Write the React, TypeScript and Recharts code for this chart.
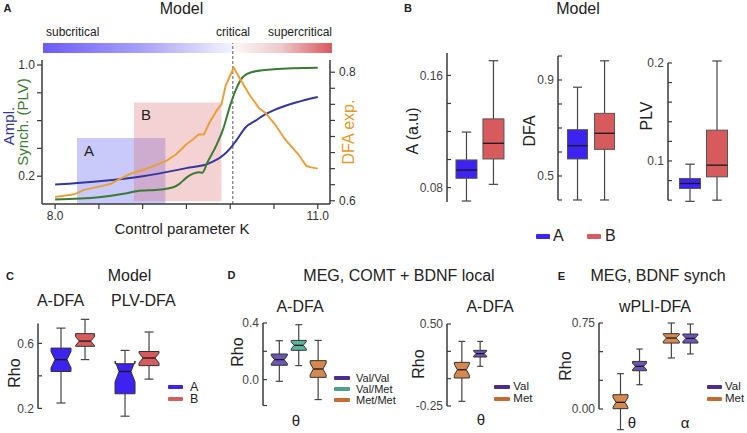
import React from 'react';
import { ComposedChart, Line, Bar, XAxis, YAxis, ReferenceArea, ReferenceLine } from 'recharts';

const FONT = '"Liberation Sans", Arial, Helvetica, sans-serif';
const INK = '#222';
const AXIS = '#3a3a3a';

// ---------- Panel A: model sweep over control parameter K ----------
const kTicks = [8, 8.5, 9, 9.5, 10, 10.5, 11];
const synchTicks = [0.2, 0.4, 0.6, 0.8, 1.0];
const dfaTicks = [0.6, 0.625, 0.65, 0.675, 0.7, 0.725, 0.75, 0.775, 0.8];
const criticalK = 10.03;

const ampK = [8.0, 8.5, 9.0, 9.5, 9.75, 9.92, 10.0, 10.07, 10.18, 10.29, 10.4, 10.5, 10.75, 11.0];
const ampVals = [0.14, 0.164, 0.2, 0.258, 0.29, 0.35, 0.4, 0.458, 0.554, 0.6, 0.644, 0.675, 0.73, 0.77];

const plvK = [8.0, 8.5, 8.78, 8.93, 9.2, 9.35, 9.42, 9.5, 9.57, 9.64, 9.68, 9.74, 9.84, 9.92, 10.0, 10.07, 10.14, 10.25, 10.5, 11.0];
const plvVals = [0.032, 0.048, 0.073, 0.092, 0.104, 0.12, 0.145, 0.19, 0.217, 0.229, 0.224, 0.3, 0.42, 0.54, 0.71, 0.83, 0.91, 0.95, 0.97, 0.98];

const dfaK = [8.0, 8.22, 8.33, 8.5, 8.63, 8.74, 8.86, 9.0, 9.12, 9.27, 9.38, 9.5, 9.57, 9.64, 9.7, 9.76, 9.84, 9.9, 9.95, 10.04, 10.12, 10.22, 10.33, 10.4, 10.5, 10.63, 10.78, 10.87, 10.93, 11.0];
const dfaVals = [0.606, 0.61, 0.617, 0.622, 0.626, 0.634, 0.642, 0.648, 0.654, 0.662, 0.672, 0.688, 0.695, 0.703, 0.703, 0.721, 0.739, 0.75, 0.78, 0.807, 0.788, 0.765, 0.744, 0.737, 0.721, 0.695, 0.672, 0.654, 0.652, 0.65];

const regionA = { k: [8.25, 9.26], v: [0, 0.475] };
const regionB = { k: [8.9, 9.9], v: [0.02, 0.73] };

// ---------- Box stats: [min, q1, median, q3, max] ----------
// B: model, regions A / B
const ampBox = [[0.0704, 0.0866, 0.0925, 0.0997, 0.1196], [0.0823, 0.1004, 0.1116, 0.129, 0.1705]];
const dfaBox = [[0.4, 0.571, 0.626, 0.693, 0.87], [0.4, 0.611, 0.678, 0.761, 0.98]];
const plvBox = [[0.0588, 0.0719, 0.077, 0.0821, 0.0967], [0.06, 0.0838, 0.0957, 0.1314, 0.202]];
// C: model correlations (A-DFA, PLV-DFA)
const rhoA = [[0.233, 0.427, 0.5, 0.571, 0.694], [0.152, 0.29, 0.427, 0.475, 0.557]];
const rhoB = [[0.5, 0.582, 0.614, 0.66, 0.748], [0.38, 0.463, 0.51, 0.55, 0.67]];
// D: MEG COMT (Val/Val, Val/Met, Met/Met) and BDNF (Met, Val), theta A-DFA
const comtTheta = [[-0.012, 0.101, 0.141, 0.181, 0.275], [0.099, 0.207, 0.242, 0.277, 0.388], [-0.141, 0.016, 0.075, 0.134, 0.277]];
const bdnfLocalMet = [-0.207, 0.006, 0.082, 0.149, 0.341];
const bdnfLocalVal = [0.113, 0.198, 0.229, 0.259, 0.341];
// E: MEG BDNF synch, wPLI-DFA (theta, alpha)
const synchMet = [[-0.18, 0.003, 0.058, 0.125, 0.308], [0.445, 0.575, 0.619, 0.657, 0.75]];
const synchVal = [[0.212, 0.334, 0.372, 0.415, 0.523], [0.48, 0.575, 0.616, 0.654, 0.741]];

const BLUE_A = '#3c23f0';
const RED_B = '#d75a5d';
const VAL = '#6e55b4';
const VALMET = '#5db49c';
const MET = '#d7884f';
const VAL_KEY = '#4a2e8e';
const VALMET_KEY = '#4fa08a';
const MET_KEY = '#c66a34';

type Box = { x: number; stats: number[]; fill: string; w: number };

function Txt({ x, y, children, size = 16, color = INK, bold = false, rotate = false, anchor = 'middle' }: any) {
  const tx = anchor === 'start' ? '0' : anchor === 'end' ? '-100%' : '-50%';
  return (
    <div
      style={{
        position: 'absolute',
        left: x,
        top: y,
        transform: `translate(${tx},-50%)${rotate ? ' rotate(-90deg)' : ''}`,
        fontSize: size,
        color,
        fontWeight: bold ? 700 : 400,
        whiteSpace: 'nowrap',
        lineHeight: 1,
      }}
    >
      {children}
    </div>
  );
}

function Key({ x, y, items, size = 12, w = 15, gap = 6, step = 11, h = 4 }: any) {
  return (
    <>
      {items.map((it: any, i: number) => (
        <React.Fragment key={it.label}>
          <div style={{ position: 'absolute', left: x, top: y + i * step - h / 2, width: w, height: h, borderRadius: 1, background: it.color }} />
          <Txt x={x + w + gap} y={y + i * step} size={size} anchor="start">{it.label}</Txt>
        </React.Fragment>
      ))}
    </>
  );
}

function boxShape(notch: boolean) {
  return (props: any) => {
    const { x, y, width, height } = props;
    const p = props.payload ?? props;
    const [lo, q1, med, q3, hi] = p.stats;
    const top = Math.min(y, y + height);
    const bot = Math.max(y, y + height);
    const py = (v: number) => bot - ((v - lo) / (hi - lo)) * (bot - top);
    const cx = x + width / 2;
    const w = p.w;
    const L = cx - w / 2;
    const R = cx + w / 2;
    const cap = w * 0.45;
    const yQ1 = py(q1);
    const yQ3 = py(q3);
    const yM = py(med);
    let medL = L;
    let medR = R;
    let body;
    if (notch) {
      const n = 0.35 * (q3 - q1);
      const yN1 = py(med + n);
      const yN2 = py(med - n);
      medL = L + w * 0.2;
      medR = R - w * 0.2;
      const pts = [[L, yQ3], [R, yQ3], [R, yN1], [medR, yM], [R, yN2], [R, yQ1], [L, yQ1], [L, yN2], [medL, yM], [L, yN1]];
      body = <polygon points={pts.map((q) => q.join(',')).join(' ')} fill={p.fill} stroke="#333" strokeWidth={1} />;
    } else {
      body = <rect x={L} y={yQ3} width={w} height={yQ1 - yQ3} fill={p.fill} stroke="#555" strokeWidth={1} />;
    }
    return (
      <g>
        <line x1={cx} x2={cx} y1={py(hi)} y2={yQ3} stroke="#444" strokeWidth={1.2} />
        <line x1={cx} x2={cx} y1={yQ1} y2={py(lo)} stroke="#444" strokeWidth={1.2} />
        <line x1={cx - cap / 2} x2={cx + cap / 2} y1={py(hi)} y2={py(hi)} stroke="#444" strokeWidth={1.2} />
        <line x1={cx - cap / 2} x2={cx + cap / 2} y1={py(lo)} y2={py(lo)} stroke="#444" strokeWidth={1.2} />
        {body}
        <line x1={medL} x2={medR} y1={yM} y2={yM} stroke="#1a1a1a" strokeWidth={1.3} />
      </g>
    );
  };
}

const PAD = 12;

// plot = [top, bottom] of the plotting area on the page; axisX = page x of the y axis line
function BoxPanel({ axisX, plot, plotW, axisW, xDomain, yDomain, axisSpan, ticks, shown, digits, boxes, notch }: any) {
  const data = (boxes as Box[]).map((b) => ({ ...b, range: [b.stats[0], b.stats[4]] }));
  const fmt = (v: number) => (shown.includes(v) ? v.toFixed(digits) : '');
  return (
    <div style={{ position: 'absolute', left: axisX - axisW, top: plot[0] - PAD }}>
      <ComposedChart
        width={axisW + plotW}
        height={plot[1] - plot[0] + 2 * PAD}
        data={data}
        margin={{ top: PAD, right: 0, bottom: PAD, left: 0 }}
      >
        <XAxis type="number" dataKey="x" domain={xDomain} hide />
        <YAxis
          type="number"
          domain={yDomain}
          ticks={ticks}
          interval={0}
          width={axisW}
          axisLine={false}
          tickLine={{ stroke: AXIS, strokeWidth: 1.2 }}
          tickSize={-4}
          tickMargin={8}
          tick={{ fill: '#444', fontSize: 12 }}
          tickFormatter={fmt}
        />
        <ReferenceLine
          segment={[{ x: xDomain[0], y: axisSpan[0] }, { x: xDomain[0], y: axisSpan[1] }]}
          stroke={AXIS}
          strokeWidth={1.5}
          ifOverflow="visible"
        />
        <Bar dataKey="range" barSize={10} shape={boxShape(notch)} isAnimationActive={false} />
      </ComposedChart>
    </div>
  );
}

const pairs = (ks: number[], vs: number[]) => ks.map((k, i) => ({ k, v: vs[i] }));

function PanelA() {
  const fmtK = (v: number) => (v === 8 || v === 11 ? v.toFixed(1) : '');
  const fmtS = (v: number) => (v === 0.2 || v === 1 ? v.toFixed(1) : '');
  const fmtD = (v: number) => (v === 0.6 || v === 0.8 ? v.toFixed(1) : '');
  return (
    <>
      <div
        style={{
          position: 'absolute',
          left: 43,
          top: 43,
          width: 289,
          height: 10,
          background:
            'linear-gradient(90deg, #6b5cf6 0%, #a9a2f8 35%, #f3f2fe 65.5%, #fdf8f8 65.6%, #eecbcc 82%, #d9585d 100%)',
        }}
      />
      <Txt x={46} y={32} size={12} anchor="start">subcritical</Txt>
      <Txt x={233} y={32} size={12}>critical</Txt>
      <Txt x={332} y={32} size={12} anchor="end">supercritical</Txt>
      <div style={{ position: 'absolute', left: 0, top: 0 }}>
        <ComposedChart width={380} height={240} margin={{ top: 60, right: 0, bottom: 0, left: 0 }}>
          <XAxis
            type="number"
            dataKey="k"
            domain={[7.85, 11.14]}
            ticks={kTicks}
            interval={0}
            tickFormatter={fmtK}
            height={36}
            tickSize={5}
            axisLine={{ stroke: AXIS, strokeWidth: 1.5 }}
            tickLine={{ stroke: AXIS, strokeWidth: 1.2 }}
            tick={{ fill: '#333', fontSize: 12 }}
            allowDuplicatedCategory={false}
          />
          <YAxis
            yAxisId="left"
            type="number"
            width={42}
            domain={[0, 1.036]}
            ticks={synchTicks}
            interval={0}
            tickFormatter={fmtS}
            tickSize={5}
            axisLine={{ stroke: AXIS, strokeWidth: 1.5 }}
            tickLine={{ stroke: AXIS, strokeWidth: 1.2 }}
            tick={{ fill: '#333', fontSize: 12 }}
          />
          <YAxis
            yAxisId="right"
            orientation="right"
            type="number"
            width={50}
            domain={[0.595, 0.819]}
            ticks={dfaTicks}
            interval={0}
            tickFormatter={fmtD}
            tickSize={5}
            tickMargin={4}
            axisLine={{ stroke: AXIS, strokeWidth: 1.5 }}
            tickLine={{ stroke: AXIS, strokeWidth: 1.2 }}
            tick={{ fill: '#333', fontSize: 12 }}
          />
          <ReferenceArea
            yAxisId="left"
            x1={regionA.k[0]}
            x2={regionA.k[1]}
            y1={regionA.v[0]}
            y2={regionA.v[1]}
            fill="#6464f0"
            fillOpacity={0.35}
            stroke="none"
            label={{ value: 'A', position: 'insideTopLeft', offset: 7, fontSize: 15, fill: INK }}
          />
          <ReferenceArea
            yAxisId="left"
            x1={regionB.k[0]}
            x2={regionB.k[1]}
            y1={regionB.v[0]}
            y2={regionB.v[1]}
            fill="#d96b70"
            fillOpacity={0.3}
            stroke="none"
            label={{ value: 'B', position: 'insideTopLeft', offset: 7, fontSize: 15, fill: INK }}
          />
          <ReferenceLine
            yAxisId="left"
            segment={[{ x: criticalK, y: 0 }, { x: criticalK, y: 1.158 }]}
            stroke="#555"
            strokeDasharray="3 2"
            ifOverflow="visible"
          />
          <Line yAxisId="left" data={pairs(ampK, ampVals)} dataKey="v" type="monotone" stroke="#35359e" strokeWidth={2} dot={false} isAnimationActive={false} />
          <Line yAxisId="left" data={pairs(plvK, plvVals)} dataKey="v" type="monotone" stroke="#3b7a35" strokeWidth={2} dot={false} isAnimationActive={false} />
          <Line yAxisId="right" data={pairs(dfaK, dfaVals)} dataKey="v" type="linear" stroke="#e8a03a" strokeWidth={2} dot={false} isAnimationActive={false} />
        </ComposedChart>
      </div>
      <Txt x={8} y={126} size={15} color="#35359e" rotate>Ampl.</Txt>
      <Txt x={21.5} y={122} size={15} color="#3b7a35" rotate>Synch. (PLV)</Txt>
      <Txt x={349} y={132} size={16} color="#e29a2a" rotate>DFA exp.</Txt>
      <Txt x={182} y={228} size={15}>Control parameter K</Txt>
    </>
  );
}

export default function App() {
  const ab = (stats: number[][], w: number) => [
    { x: 1, stats: stats[0], fill: BLUE_A, w },
    { x: 2, stats: stats[1], fill: RED_B, w },
  ];
  return (
    <div style={{ position: 'relative', width: 747, height: 433, overflow: 'hidden', background: '#fff', fontFamily: FONT, color: INK }}>
      <style>{'body{margin:0}'}</style>

      {/* panel letters and titles */}
      <Txt x={7.5} y={8} size={11} bold>A</Txt>
      <Txt x={408} y={7.5} size={11} bold>B</Txt>
      <Txt x={10} y={276} size={11} bold>C</Txt>
      <Txt x={231.5} y={275} size={11} bold>D</Txt>
      <Txt x={561.5} y={276} size={11} bold>E</Txt>
      <Txt x={181.5} y={9} size={16}>Model</Txt>
      <Txt x={578} y={9} size={16}>Model</Txt>
      <Txt x={129.5} y={275.5} size={16}>Model</Txt>
      <Txt x={399} y={276} size={16}>MEG, COMT + BDNF local</Txt>
      <Txt x={658} y={276} size={16}>MEG, BDNF synch</Txt>

      <PanelA />

      {/* B */}
      <BoxPanel axisX={447} plot={[53, 202]} plotW={75} axisW={40} xDomain={[0.26, 3.04]} yDomain={[0.0697, 0.176]} axisSpan={[0.0697, 0.176]}
        ticks={[0.08, 0.1, 0.12, 0.14, 0.16]} shown={[0.08, 0.16]} digits={2} boxes={ab(ampBox, 21)} notch={false} />
      <BoxPanel axisX={558} plot={[56, 201.2]} plotW={75} axisW={40} xDomain={[0.296, 3.07]} yDomain={[0.395, 1.0]} axisSpan={[0.4, 1.0]}
        ticks={[0.4, 0.5, 0.6, 0.7, 0.8, 0.9, 1.0]} shown={[0.5, 0.9]} digits={1} boxes={ab(dfaBox, 20)} notch={false} />
      <BoxPanel axisX={667.5} plot={[59.8, 202.9]} plotW={75} axisW={40} xDomain={[0.204, 2.98]} yDomain={[0.057, 0.203]} axisSpan={[0.06, 0.2]}
        ticks={[0.06, 0.08, 0.1, 0.12, 0.14, 0.16, 0.18, 0.2]} shown={[0.1, 0.2]} digits={1} boxes={ab(plvBox, 21)} notch={false} />
      <Txt x={413} y={131} size={16} rotate>A (a.u)</Txt>
      <Txt x={530} y={131} size={16} rotate>DFA</Txt>
      <Txt x={647} y={116} size={16} rotate>PLV</Txt>
      <Key x={536} y={236} size={16} w={14} gap={3} h={5} items={[{ label: 'A', color: BLUE_A }]} />
      <Key x={587} y={236} size={16} w={14} gap={4} h={5} items={[{ label: 'B', color: RED_B }]} />

      {/* C */}
      <BoxPanel axisX={38} plot={[318.6, 416.1]} plotW={127} axisW={36} xDomain={[0.453, 2.437]} yDomain={[0.15, 0.75]} axisSpan={[0.2, 0.723]}
        ticks={[0.2, 0.4, 0.6]} shown={[0.2, 0.6]} digits={1} notch
        boxes={[
          { x: 0.8125, stats: rhoA[0], fill: BLUE_A, w: 20 },
          { x: 1.1875, stats: rhoB[0], fill: RED_B, w: 19 },
          { x: 1.8125, stats: rhoA[1], fill: BLUE_A, w: 20 },
          { x: 2.1875, stats: rhoB[1], fill: RED_B, w: 20 },
        ]} />
      <Txt x={60.5} y={301} size={16}>A-DFA</Txt>
      <Txt x={143.3} y={301} size={16}>PLV-DFA</Txt>
      <Txt x={15} y={373} size={16} rotate>Rho</Txt>
      <Key x={168} y={386.7} size={12.5} w={15} gap={7} step={12.6} h={4} items={[{ label: 'A', color: BLUE_A }, { label: 'B', color: RED_B }]} />

      {/* D */}
      <BoxPanel axisX={263} plot={[323.4, 405.9]} plotW={70} axisW={30} xDomain={[0.175, 3.78]} yDomain={[-0.183, 0.4]} axisSpan={[-0.183, 0.4]}
        ticks={[-0.183, 0, 0.2, 0.4]} shown={[0, 0.4]} digits={1} notch
        boxes={[
          { x: 1, stats: comtTheta[0], fill: VAL, w: 16 },
          { x: 2, stats: comtTheta[1], fill: VALMET, w: 15 },
          { x: 3, stats: comtTheta[2], fill: MET, w: 16 },
        ]} />
      <Txt x={300} y={306.5} size={16}>A-DFA</Txt>
      <Txt x={238} y={352} size={16} rotate>Rho</Txt>
      <Txt x={296} y={420} size={15}>θ</Txt>
      <Key x={334} y={378} size={11} w={16} gap={6} step={11} h={4}
        items={[{ label: 'Val/Val', color: VAL_KEY }, { label: 'Val/Met', color: VALMET_KEY }, { label: 'Met/Met', color: MET_KEY }]} />

      <BoxPanel axisX={446.7} plot={[324.3, 406.3]} plotW={45} axisW={36} xDomain={[0.18, 2.64]} yDomain={[-0.25, 0.5]} axisSpan={[-0.25, 0.5]}
        ticks={[-0.25, 0, 0.25, 0.5]} shown={[-0.25, 0.5]} digits={2} notch
        boxes={[
          { x: 1, stats: bdnfLocalMet, fill: MET, w: 15 },
          { x: 2, stats: bdnfLocalVal, fill: VAL, w: 13 },
        ]} />
      <Txt x={490} y={306.5} size={16}>A-DFA</Txt>
      <Txt x={419} y={364} size={16} rotate>Rho</Txt>
      <Txt x={481} y={419} size={15}>θ</Txt>
      <Key x={494.3} y={386.7} size={11.5} w={16} gap={3} step={12} h={4}
        items={[{ label: 'Val', color: VAL_KEY }, { label: 'Met', color: MET_KEY }]} />

      {/* E */}
      <BoxPanel axisX={599} plot={[323.3, 431.1]} plotW={110} axisW={36} xDomain={[0.4, 2.563]} yDomain={[-0.19, 0.75]} axisSpan={[0, 0.75]}
        ticks={[0, 0.25, 0.5, 0.75]} shown={[0, 0.75]} digits={2} notch
        boxes={[
          { x: 0.813, stats: synchMet[0], fill: MET, w: 15 },
          { x: 1.187, stats: synchVal[0], fill: VAL, w: 14 },
          { x: 1.813, stats: synchMet[1], fill: MET, w: 16 },
          { x: 2.187, stats: synchVal[1], fill: VAL, w: 15 },
        ]} />
      <Txt x={655} y={306.5} size={16}>wPLI-DFA</Txt>
      <Txt x={566} y={366} size={16} rotate>Rho</Txt>
      <Txt x={632} y={421.7} size={15}>θ</Txt>
      <Txt x={685} y={421.7} size={15}>α</Txt>
      <Key x={707} y={387} size={11.5} w={15} gap={3} step={12} h={4}
        items={[{ label: 'Val', color: VAL_KEY }, { label: 'Met', color: MET_KEY }]} />
    </div>
  );
}
